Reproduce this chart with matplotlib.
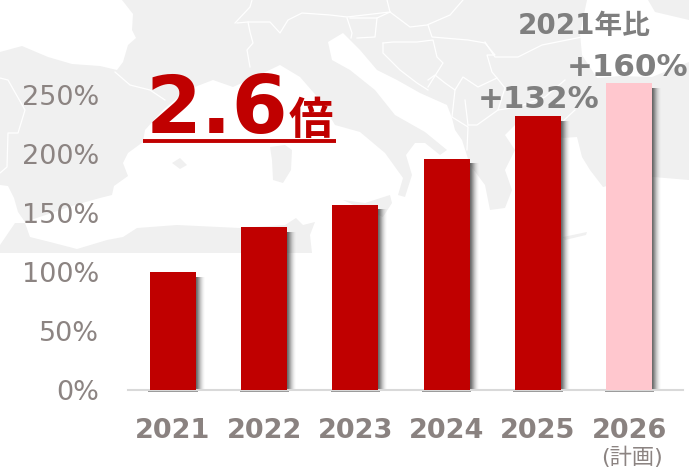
import matplotlib
matplotlib.use('Agg')
import matplotlib.pyplot as plt
from matplotlib.patches import Polygon, Rectangle

plt.rcParams['font.family'] = ['DejaVu Sans', 'Noto Sans CJK JP']

# chart data
years = ['2021', '2022', '2023', '2024', '2025', '2026']
values = [100, 138, 157, 196, 232, 260]
bar_colors = ['#C00000', '#C00000', '#C00000', '#C00000', '#C00000', '#FFC7CE']
y_ticks = [0, 50, 100, 150, 200, 250]
y_labels = ['0%', '50%', '100%', '150%', '200%', '250%']

# background map, traced in picture pixels
atlantic = [(0, 0), (122, 0), (133, 14), (132, 30), (136, 38), (128, 45), (123, 62), (117, 70),
            (100, 66), (72, 64), (48, 57), (22, 46), (0, 52)]
black_sea = [(587, 0), (648, 0), (655, 12), (689, 20), (689, 62), (652, 77), (620, 76), (597, 78),
             (582, 55), (580, 33)]
med_sea = [(0, 185), (8, 186), (14, 198), (18, 212), (25, 222), (75, 205), (100, 198), (112, 195),
           (114, 186), (128, 176), (123, 163), (128, 153), (143, 142), (145, 130), (163, 110),
           (187, 90), (213, 80), (233, 87), (253, 78), (280, 65), (300, 77), (320, 100), (335, 125),
           (360, 132), (385, 153), (403, 178), (398, 195), (405, 197), (412, 175), (406, 155),
           (415, 143), (425, 143), (440, 155), (447, 150), (425, 132), (395, 115), (375, 90),
           (350, 70), (332, 60), (328, 42), (343, 33), (352, 42), (360, 50), (377, 70), (397, 80),
           (420, 93), (447, 105), (452, 118), (455, 130), (462, 140), (470, 165), (485, 185),
           (490, 210), (505, 208), (512, 190), (505, 170), (515, 150), (505, 135), (515, 125),
           (540, 128), (563, 138), (577, 137), (582, 157), (590, 170), (603, 187), (630, 180),
           (653, 177), (689, 180), (689, 253), (312, 253), (310, 235), (315, 222), (303, 225),
           (296, 218), (285, 225), (240, 228), (177, 225), (137, 228), (123, 237), (107, 240),
           (77, 249), (50, 242), (30, 237), (25, 223), (15, 223), (0, 245)]
islands = [[(270, 147), (285, 145), (292, 150), (291, 170), (283, 183), (273, 180), (272, 160)],
           [(172, 163), (180, 158), (187, 165), (180, 169)],
           [(343, 200), (365, 203), (390, 195), (392, 203), (383, 217), (360, 208)],
           [(563, 237), (587, 232), (586, 235), (565, 240)]]
borders = [[(115, 72), (130, 85), (150, 90), (165, 100)],
           [(0, 78), (8, 80), (25, 110), (18, 133), (8, 133), (7, 167), (0, 173)],
           [(235, 23), (250, 7), (252, 0)],
           [(237, 23), (248, 22), (270, 22), (280, 33), (288, 20), (302, 13), (330, 15), (347, 17),
            (390, 12), (387, 0)],
           [(248, 22), (250, 32), (253, 43), (247, 50), (250, 67)],
           [(347, 18), (352, 33), (351, 38)],
           [(350, 18), (377, 18), (390, 12)],
           [(377, 18), (375, 37), (357, 38)],
           [(390, 12), (410, 27), (427, 25), (450, 15), (463, 0)],
           [(383, 43), (393, 42), (417, 42), (433, 40), (437, 57), (443, 63), (428, 87)],
           [(383, 43), (383, 53), (400, 70), (417, 83), (428, 90)],
           [(428, 25), (432, 37), (468, 40), (485, 43), (495, 55), (487, 55), (492, 72), (497, 78),
            (478, 87), (463, 77), (455, 90)],
           [(485, 42), (495, 57), (518, 57), (542, 45), (582, 37)],
           [(428, 80), (435, 75), (445, 83), (455, 90), (452, 117), (468, 127), (467, 150)],
           [(468, 125), (477, 125), (498, 110), (518, 107), (545, 97), (565, 80)],
           [(465, 100), (468, 125)],
           [(497, 78), (505, 88), (498, 110)],
           [(562, 122), (575, 110)]]

fig = plt.figure(figsize=(6.89, 4.69), dpi=100)

bg = fig.add_axes([0, 0, 1, 1], zorder=0)
bg.set_xlim(0, 689)
bg.set_ylim(469, 0)
bg.axis('off')
bg.add_patch(Rectangle((0, 0), 689, 253, fc='#F0F0F0', ec='none'))
for sea in [atlantic, black_sea, med_sea]:
    bg.add_patch(Polygon(sea, closed=True, fc='white', ec='none', joinstyle='round'))
for isl in islands:
    bg.add_patch(Polygon(isl, closed=True, fc='#F0F0F0', ec='none'))
for b in borders:
    bg.plot([p[0] for p in b], [p[1] for p in b], color='white', lw=0.9)

# axes box : 128..683 px wide, baseline at 390 px
ax = fig.add_axes([128 / 689, 79 / 469, 555 / 689, 354 / 469], zorder=1)
ax.patch.set_alpha(0)
x = list(range(len(years)))
ax.set_xlim(-0.493, 5.59)
ax.set_ylim(0, 300)

# soft shadow right of the bars
for off, a in [(1, .30), (2, .26), (3, .22), (4, .17), (5, .12), (6, .09), (7, .06), (8, .04), (9, .02)]:
    ax.bar([i + 0.011 * off for i in x], [v - 4 for v in values], width=0.504, color='#404040',
           alpha=a, linewidth=0, zorder=2)
ax.bar(x, [-1.6] * 6, width=0.54, color='#9A9A9A', linewidth=0, zorder=2, clip_on=False)
ax.bar(x, values, width=0.504, color=bar_colors, linewidth=0, zorder=3)

for s in ['top', 'right', 'left']:
    ax.spines[s].set_visible(False)
ax.spines['bottom'].set_color('#D9D9D9')
ax.spines['bottom'].set_linewidth(1.5)

ax.set_yticks(y_ticks)
ax.set_yticklabels(y_labels, fontsize=19.5, color='#8C8482')
ax.tick_params(axis='y', length=0, pad=21)
ax.set_xticks(x)
ax.set_xticklabels(years, fontsize=19.5, fontweight='bold', color='#8A8280')
ax.tick_params(axis='x', length=0, pad=20)

# annotations, in picture pixels
bg.text(146, 133, '2.6', fontsize=58, fontweight='bold', color='#C00000', va='baseline', ha='left')
bg.text(289, 134, '倍', fontsize=32, fontweight='bold', color='#C00000', va='baseline', ha='left')
bg.plot([143, 336], [141, 141], color='#C00000', lw=2.8, solid_capstyle='butt')
fig.text(584 / 689, 1 - 34 / 469, '2021年比', fontsize=20, fontweight='bold', color='#7F7F7F',
         ha='center', va='baseline', zorder=5)
fig.text(628 / 689, 1 - 76 / 469, '+160%', fontsize=22.3, fontweight='bold', color='#7F7F7F',
         ha='center', va='baseline', zorder=5)
fig.text(539 / 689, 1 - 108 / 469, '+132%', fontsize=22.3, fontweight='bold', color='#7F7F7F',
         ha='center', va='baseline', zorder=5)
fig.text(632 / 689, 1 - 464 / 469, '(計画)', fontsize=16, color='#8C8482', ha='center',
         va='baseline', zorder=5)

fig.savefig('out.png', dpi=100)
